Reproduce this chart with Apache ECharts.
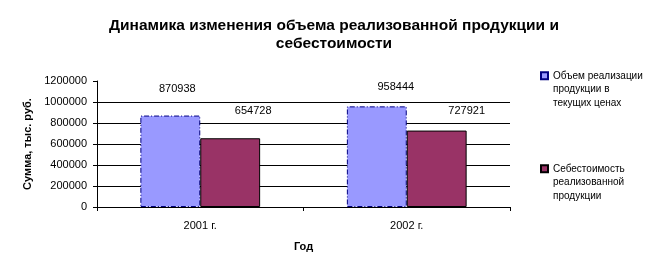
<!DOCTYPE html>
<html><head><meta charset="utf-8">
<script src="https://cdn.jsdelivr.net/npm/echarts@6/dist/echarts.min.js"></script>
<style>html,body{margin:0;padding:0;background:#fff}#c{width:657px;height:271px}</style>
</head><body><div id="c"></div>
<script>
const categories = ['2001 г.', '2002 г.'];
const seriesNames = ['Объем реализации\nпродукции в\nтекущих ценах', 'Себестоимость\nреализованной\nпродукции'];
const revenue = [870938, 958444];
const cost = [654728, 727921];
const yTicks = [0, 200000, 400000, 600000, 800000, 1000000, 1200000];

// label placement tweaks (style, not data)
const revenueLabelOffsets = [[7, -21], [19, -14]];
const costLabelOffsets = [[23, -21.5], [30, -14]];

const FONT = '"Liberation Sans", Arial, sans-serif';
const chart = echarts.init(document.getElementById('c'), null, {renderer: 'canvas'});

function mk(values, offsets) {
  return values.map((v, i) => ({value: v, label: {offset: offsets[i]}}));
}

chart.setOption({
  animation: false,
  backgroundColor: '#fff',
  textStyle: {fontFamily: FONT, color: '#000'},
  title: {
    text: 'Динамика изменения объема реализованной продукции и\nсебестоимости',
    left: 329, textAlign: 'center', top: 12,
    textStyle: {fontFamily: FONT, fontSize: 15.5, fontWeight: 'bold', color: '#000', lineHeight: 18}
  },
  legend: {
    orient: 'vertical', left: 535, top: 37, padding: 5,
    itemWidth: 7, itemHeight: 7, itemGap: 25.5,
    icon: 'rect',
    formatter: name => '\n\n' + name,
    textStyle: {fontFamily: FONT, fontSize: 10, color: '#000', lineHeight: 13.5},
    data: seriesNames
  },
  grid: {left: 97, right: 147, top: 81, bottom: 64, containLabel: false},
  xAxis: {
    type: 'category', data: categories,
    name: 'Год', nameLocation: 'middle', nameGap: 34,
    nameTextStyle: {fontFamily: FONT, fontSize: 11, fontWeight: 'bold', color: '#000'},
    axisLine: {lineStyle: {color: '#000', width: 1}},
    axisTick: {show: true, length: 4, lineStyle: {color: '#000'}},
    axisLabel: {fontFamily: FONT, fontSize: 11, color: '#000', margin: 13}
  },
  yAxis: {
    type: 'value', min: yTicks[0], max: yTicks[yTicks.length - 1], interval: yTicks[1] - yTicks[0],
    name: 'Сумма, тыс. руб.', nameLocation: 'middle', nameGap: 57,
    nameTextStyle: {fontFamily: FONT, fontSize: 11, fontWeight: 'bold', color: '#000'},
    axisLine: {show: true, lineStyle: {color: '#000', width: 1}},
    axisTick: {show: true, length: 4, lineStyle: {color: '#000'}},
    axisLabel: {fontFamily: FONT, fontSize: 11, color: '#000', margin: 10, formatter: v => String(v)},
    splitLine: {show: true, showMaxLine: false, lineStyle: {color: '#000', width: 1}}
  },
  series: [
    {
      name: seriesNames[0], type: 'bar', data: mk(revenue, revenueLabelOffsets),
      barGap: '0%', barCategoryGap: '42%',
      itemStyle: {color: '#9999FF', borderColor: '#000080', borderWidth: 1, borderType: [5, 2, 1, 2]},
      label: {show: true, position: 'top', distance: 0, fontFamily: FONT, fontSize: 11, color: '#000', formatter: p => String(p.value)}
    },
    {
      name: seriesNames[1], type: 'bar', data: mk(cost, costLabelOffsets),
      itemStyle: {color: '#993366', borderColor: '#000', borderWidth: 1},
      label: {show: true, position: 'top', distance: 0, fontFamily: FONT, fontSize: 11, color: '#000', formatter: p => String(p.value)}
    }
  ]
});
</script></body></html>
